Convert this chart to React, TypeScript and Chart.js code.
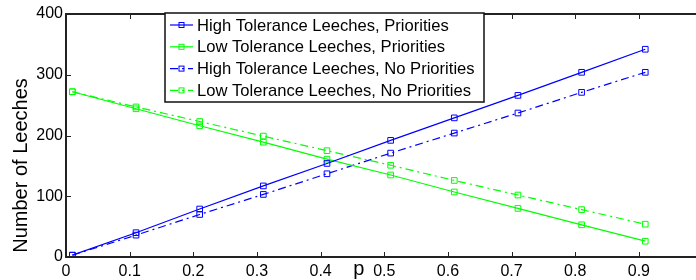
import React, { useEffect, useRef } from "react";
import { Chart, registerables } from "chart.js";

Chart.register(...registerables);

const pValues = [0.01, 0.11, 0.21, 0.31, 0.41, 0.51, 0.61, 0.71, 0.81, 0.91];
const highPriorities = [3, 40, 79, 117, 154, 192, 229, 266, 304, 342];
const lowPriorities = [272, 244, 216, 189, 161, 135, 107, 80, 53, 26];
const highNoPriorities = [3, 36, 70, 103, 137, 171, 204, 237, 271, 304];
const lowNoPriorities = [272, 247, 223, 199, 175, 151, 126, 102, 78, 54];

const seriesLabels = [
  "High Tolerance Leeches, Priorities",
  "Low Tolerance Leeches, Priorities",
  "High Tolerance Leeches, No Priorities",
  "Low Tolerance Leeches, No Priorities",
];
const xTickValues = [0, 0.1, 0.2, 0.3, 0.4, 0.5, 0.6, 0.7, 0.8, 0.9, 1];
const yTickValues = [0, 100, 200, 300, 400];
const xTitle = "p";
const yTitle = "Number of Leeches";

const BLUE = "#0000ff";
const GREEN = "#00ff00";
const DASH = [8, 4, 2, 4];
const FONT = "'Liberation Sans', Arial, Helvetica, sans-serif";

function toPoints(values: number[]) {
  return values.map((v, i) => ({ x: pValues[i], y: v }));
}

const decorPlugin = {
  id: "matlabDecor",
  afterDatasetsDraw(chart: any) {
    const { ctx, chartArea, scales } = chart;
    const xs = scales.x;
    const ys = scales.y;
    const { left, right, top, bottom } = chartArea;
    ctx.save();
    // ticks (inward)
    ctx.strokeStyle = "#222";
    ctx.lineWidth = 1;
    const tl = 5;
    xTickValues.forEach((v) => {
      const px = Math.round(xs.getPixelForValue(v)) + 0.5;
      ctx.beginPath();
      ctx.moveTo(px, bottom);
      ctx.lineTo(px, bottom - tl);
      ctx.moveTo(px, top);
      ctx.lineTo(px, top + tl);
      ctx.stroke();
    });
    yTickValues.forEach((v) => {
      const py = Math.round(ys.getPixelForValue(v)) + 0.5;
      ctx.beginPath();
      ctx.moveTo(left, py);
      ctx.lineTo(left + tl, py);
      ctx.moveTo(right, py);
      ctx.lineTo(right - tl, py);
      ctx.stroke();
    });
    // frame
    ctx.strokeStyle = "#222";
    ctx.lineWidth = 2;
    ctx.beginPath();
    ctx.rect(left, top, right - left, bottom - top);
    ctx.stroke();

    // x title
    ctx.fillStyle = "#000";
    ctx.font = `20px ${FONT}`;
    ctx.textAlign = "center";
    ctx.textBaseline = "middle";
    ctx.fillText(xTitle, xs.getPixelForValue(0.46), bottom + 12);

    // y title
    ctx.save();
    ctx.translate(21, (top + bottom) / 2 + 30);
    ctx.rotate(-Math.PI / 2);
    ctx.fillText(yTitle, 0, 0);
    ctx.restore();

    // legend
    const bx = 165;
    const by = top - 1;
    const bw = 319;
    const bh = 89;
    ctx.fillStyle = "#fff";
    ctx.fillRect(bx, by, bw, bh);
    ctx.strokeStyle = "#111";
    ctx.lineWidth = 1.5;
    ctx.strokeRect(bx, by, bw, bh);
    ctx.font = `16.6px ${FONT}`;
    ctx.textAlign = "left";
    ctx.textBaseline = "middle";
    chart.data.datasets.forEach((ds: any, i: number) => {
      const ry = by + 12 + i * 21.8;
      ctx.strokeStyle = ds.borderColor;
      ctx.lineWidth = 1.2;
      ctx.setLineDash(ds.borderDash || []);
      ctx.beginPath();
      ctx.moveTo(bx + 5, ry);
      ctx.lineTo(bx + 28, ry);
      ctx.stroke();
      ctx.setLineDash([]);
      ctx.lineWidth = 1;
      ctx.strokeRect(bx + 14, ry - 2.5, 5, 5);
      ctx.fillStyle = "#000";
      ctx.fillText(ds.label, bx + 32, ry + 1);
    });
    ctx.restore();
  },
};

export default function App() {
  const canvasRef = useRef<HTMLCanvasElement | null>(null);

  useEffect(() => {
    const canvas = canvasRef.current;
    if (!canvas) return;
    const mk = (label: string, values: number[], color: string, dashed: boolean) => ({
      label,
      data: toPoints(values),
      borderColor: color,
      backgroundColor: "rgba(0,0,0,0)",
      borderWidth: 1.2,
      borderDash: dashed ? DASH : [],
      pointStyle: "rect",
      pointRadius: 4,
      pointBorderWidth: 1,
      pointBorderColor: color,
      pointBackgroundColor: "rgba(0,0,0,0)",
      tension: 0,
      fill: false,
    });
    const chart = new Chart(canvas, {
      type: "line",
      data: {
        datasets: [
          mk(seriesLabels[0], highPriorities, BLUE, false),
          mk(seriesLabels[1], lowPriorities, GREEN, false),
          mk(seriesLabels[2], highNoPriorities, BLUE, true),
          mk(seriesLabels[3], lowNoPriorities, GREEN, true),
        ] as any,
      },
      options: {
        animation: false,
        responsive: false,
        devicePixelRatio: 1,
        layout: { padding: { left: 0, right: 9, top: 14, bottom: 0 } },
        plugins: {
          legend: { display: false },
          tooltip: { enabled: false },
        },
        scales: {
          x: {
            type: "linear",
            min: 0,
            max: 1,
            afterBuildTicks: (s: any) => {
              s.ticks = xTickValues.map((v) => ({ value: v }));
            },
            afterFit: (s: any) => {
              s.height = 23;
            },
            grid: { display: false, drawTicks: false },
            border: { display: false },
            ticks: {
              autoSkip: false,
              maxRotation: 0,
              padding: 5,
              color: "#000",
              font: { family: FONT, size: 16 },
              callback: (v: any) => String(Math.round(Number(v) * 10) / 10),
            },
          },
          y: {
            type: "linear",
            min: 0,
            max: 400,
            afterBuildTicks: (s: any) => {
              s.ticks = yTickValues.map((v) => ({ value: v }));
            },
            afterFit: (s: any) => {
              s.width = 66;
            },
            grid: { display: false, drawTicks: false },
            border: { display: false },
            ticks: {
              padding: 3,
              color: "#000",
              font: { family: FONT, size: 16 },
            },
          },
        },
      },
      plugins: [decorPlugin],
    });
    return () => chart.destroy();
  }, []);

  return (
    <div
      style={{
        position: "fixed",
        left: 0,
        top: 0,
        width: 696,
        height: 280,
        overflow: "hidden",
        background: "#fff",
      }}
    >
      <canvas ref={canvasRef} width={712} height={280} style={{ display: "block" }} />
    </div>
  );
}
